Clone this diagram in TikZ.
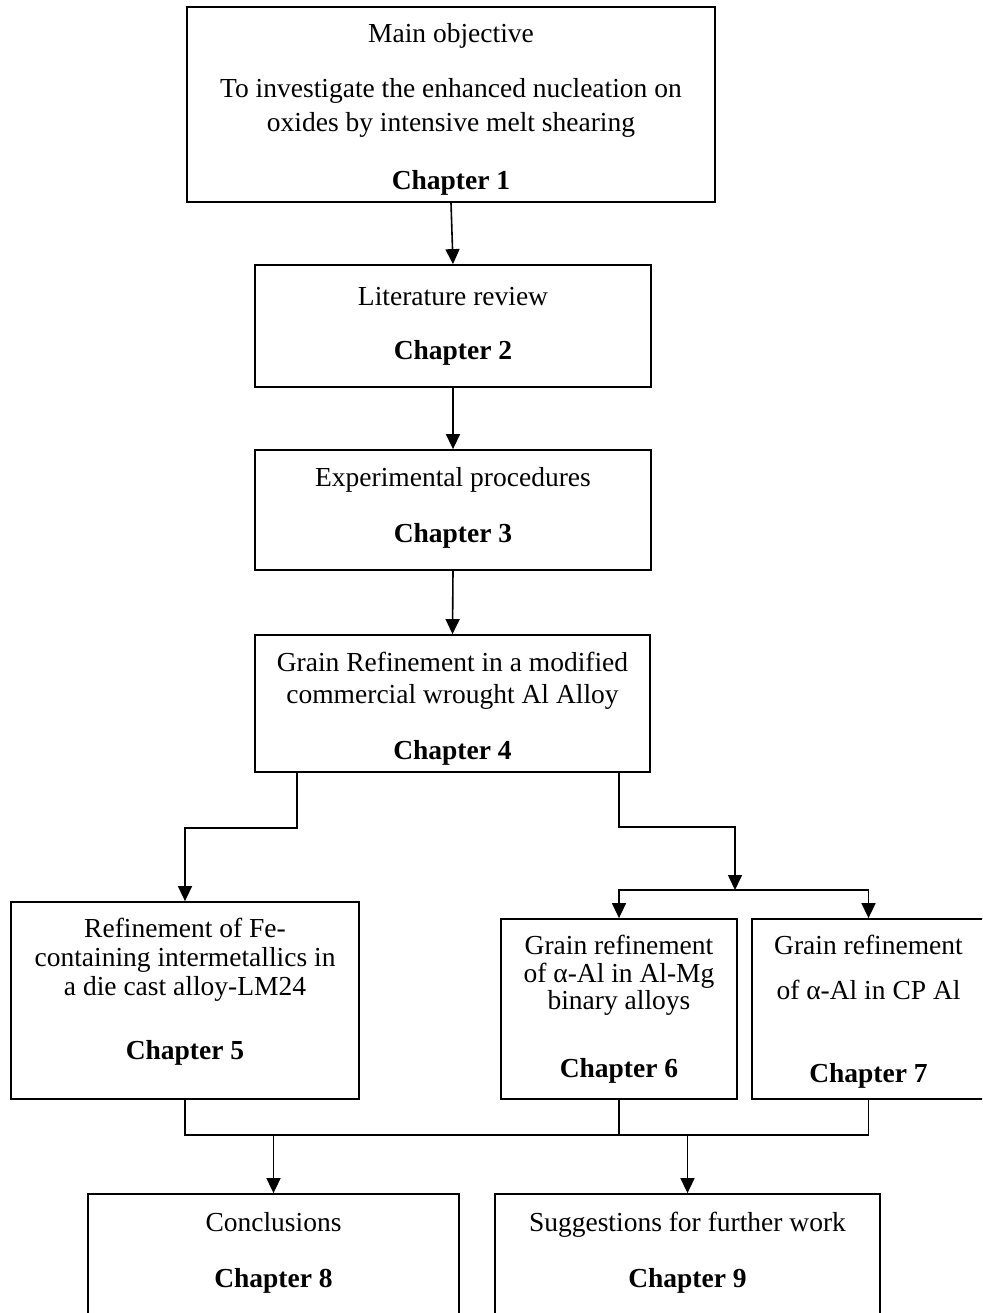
\documentclass[tikz,border=0pt]{standalone}
\usepackage{fontspec}
\setmainfont{Liberation Serif}
\usetikzlibrary{arrows.meta}
\begin{document}
\begin{tikzpicture}[x=0.5pt,y=-0.5pt,
  font=\fontsize{13.75}{16}\selectfont,
  box/.style={draw=black, line width=0.9pt, inner sep=0pt, fill=none},
  txt/.style={inner sep=0pt, anchor=base, align=center},
  arr/.style={draw=black, line width=0.8pt, -{Triangle[length=7.5pt,width=7pt]}},
  ln/.style={draw=black, line width=0.8pt}]
\useasboundingbox (0,0) rectangle (982,1313);
\clip (0,0) rectangle (982,1313);
\fill[white] (0,0) rectangle (982,1313);
% boxes
\node[box, minimum width=264pt, minimum height=97.5pt] (b1) at (451,104.5) {};
\node[box, minimum width=198pt, minimum height=61pt] (b2) at (453,326) {};
\node[box, minimum width=198pt, minimum height=60pt] (b3) at (453,510) {};
\node[box, minimum width=197.5pt, minimum height=68.5pt] (b4) at (452.5,703.5) {};
\node[box, minimum width=174pt, minimum height=98.5pt] (b5) at (185,1000.5) {};
\node[box, minimum width=118pt, minimum height=90pt] (b6) at (619,1009) {};
\node[box, minimum width=116.5pt, minimum height=90pt] (b7) at (868.5,1009) {};
\node[box, minimum width=185.5pt, minimum height=73pt] (b8) at (273.5,1267) {};
\node[box, minimum width=192.5pt, minimum height=73pt] (b9) at (687.5,1267) {};
% texts
\node[txt] (t1a) at (451,42) {Main objective};
\node[txt] (t1b) at (451,97) {To investigate the enhanced nucleation on};
\node[txt] (t1c) at (451,131) {oxides by intensive melt shearing};
\node[txt] (t1d) at (451,189) {\textbf{Chapter 1}};
\node[txt] (t2a) at (453,305) {Literature review};
\node[txt] (t2b) at (453,359) {\textbf{Chapter 2}};
\node[txt] (t3a) at (453,486) {Experimental procedures};
\node[txt] (t3b) at (453,542) {\textbf{Chapter 3}};
\node[txt] (t4a) at (452.5,671) {Grain Refinement in a modified};
\node[txt] (t4b) at (452.5,703) {commercial wrought Al Alloy};
\node[txt] (t4c) at (452.5,759) {\textbf{Chapter 4}};
\node[txt] (t5a) at (185,937) {Refinement of Fe-};
\node[txt] (t5b) at (185,966) {containing intermetallics in};
\node[txt] (t5c) at (185,995) {a die cast alloy-LM24};
\node[txt] (t5d) at (185,1059) {\textbf{Chapter 5}};
\node[txt] (t6a) at (619,954) {Grain refinement};
\node[txt] (t6b) at (619,982) {of α-Al in Al-Mg};
\node[txt] (t6c) at (619,1009) {binary alloys};
\node[txt] (t6d) at (619,1077) {\textbf{Chapter 6}};
\node[txt] (t7a) at (868.5,954) {Grain refinement};
\node[txt] (t7b) at (868.5,999) {of α-Al in CP Al};
\node[txt] (t7c) at (868.5,1082) {\textbf{Chapter 7}};
\node[txt] (t8a) at (273.5,1231) {Conclusions};
\node[txt] (t8b) at (273.5,1287) {\textbf{Chapter 8}};
\node[txt] (t9a) at (687.5,1231) {Suggestions for further work};
\node[txt] (t9b) at (687.5,1287) {\textbf{Chapter 9}};
% coordinates
\coordinate (l1) at (297,828);
\coordinate (r1) at (619,827);
\coordinate (j1) at (735,890);
\coordinate (m) at (0,1135);
% connectors
\draw[arr] (b1.south) -- (b2.north);
\draw[arr] (b2.south) -- (b3.north);
\draw[arr] (b3.south) -- (b4.north);
\draw[arr] (b4.south -| l1) -- (l1) -- (l1 -| b5.north) -- (b5.north);
\draw[arr] (b4.south -| r1) -- (r1) -- (r1 -| j1) -- (j1);
\draw[arr] (j1) -| (b6.north);
\draw[arr] (j1) -| (b7.north);
\draw[ln] (b5.south) -- (b5.south |- m) -- (b7.south |- m) -- (b7.south);
\draw[ln] (b6.south) -- (b6.south |- m);
\draw[arr] (b8.north |- m) -- (b8.north);
\draw[arr] (b9.north |- m) -- (b9.north);
\end{tikzpicture}
\end{document}
